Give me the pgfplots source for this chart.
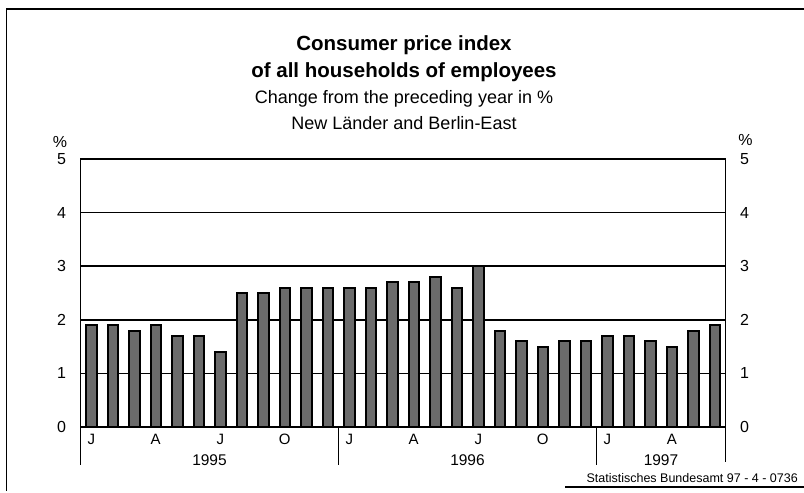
\documentclass[border=0pt]{standalone}
\usepackage{fontspec}
\setmainfont{Liberation Sans}
\usepackage{pgfplots}
\usepackage{pgfplotstable}
\pgfplotsset{compat=1.18}
\pgfplotstableread{
x y
0 1.9
1 1.9
2 1.8
3 1.9
4 1.7
5 1.7
6 1.4
7 2.5
8 2.5
9 2.6
10 2.6
11 2.6
12 2.6
13 2.6
14 2.7
15 2.7
16 2.8
17 2.6
18 3.0
19 1.8
20 1.6
21 1.5
22 1.6
23 1.6
24 1.7
25 1.7
26 1.6
27 1.5
28 1.8
29 1.9
}\cpidata
\begin{document}
\begin{tikzpicture}
\path[use as bounding box] (0pt,0pt) rectangle (804pt,493pt);
\draw[line width=1.6pt] (6.5pt,2pt) -- (6.5pt,484pt) -- (804pt,484pt);
\draw[line width=1.6pt] (565pt,6pt) -- (804pt,6pt);
\node[anchor=base east, inner sep=0pt, font=\fontsize{12.5}{14}\selectfont] at (798pt,10pt) {Statistisches Bundesamt 97 - 4 - 0736};
\node[anchor=base, inner sep=0pt, font=\fontsize{20.5}{24}\selectfont\bfseries] at (404pt,442.3pt) {Consumer price index};
\node[anchor=base, inner sep=0pt, font=\fontsize{20.5}{24}\selectfont\bfseries] at (404pt,415.7pt) {of all households of employees};
\node[anchor=base, inner sep=0pt, font=\fontsize{18}{21}\selectfont] at (404pt,389pt) {Change from the preceding year in \%};
\node[anchor=base, inner sep=0pt, font=\fontsize{18}{21}\selectfont] at (404pt,363pt) {New Länder and Berlin-East};
\begin{axis}[
  at={(80.5pt,66pt)}, anchor=south west,
  scale only axis, width=645pt, height=268pt,
  xmin=-0.5, xmax=29.5, ymin=0, ymax=5,
  ybar, bar width=10.5pt, bar shift=0pt,
  axis line style={line width=1.6pt},
  ymajorgrids, grid style={line width=1.5pt, black},
  ytick={0,1,2,3,4,5},
  xtick={0,3,6,9,12,15,18,21,24,27},
  xticklabels={J,A,J,O,J,A,J,O,J,A},
  major tick length=0pt,
  /pgf/number format/assume math mode=true,
  yticklabel style={font=\fontsize{16}{18}\selectfont, xshift=-11pt},
  xticklabel style={font=\fontsize{15}{17}\selectfont, text height=11pt, text depth=0pt, inner sep=0pt, yshift=-6pt},
  clip=false,
]
\addplot[fill=black!58, draw=black, line width=2pt] table[x=x,y=y] {\cpidata};
\draw[line width=2pt] (axis cs:-0.5,0) -- (axis cs:29.5,0);
\draw[line width=1.6pt] (axis cs:-0.5,0) -- ([yshift=-38pt]axis cs:-0.5,0);
\draw[line width=1.6pt] (axis cs:11.5,0) -- ([yshift=-38pt]axis cs:11.5,0);
\draw[line width=1.6pt] (axis cs:23.5,0) -- ([yshift=-38pt]axis cs:23.5,0);
\draw[line width=1.6pt] (axis cs:29.5,0) -- ([yshift=-35pt]axis cs:29.5,0);
\node[anchor=base, inner sep=0pt, font=\fontsize{15.5}{18}\selectfont] at ([yshift=-38pt]axis cs:5.5,0) {1995};
\node[anchor=base, inner sep=0pt, font=\fontsize{15.5}{18}\selectfont] at ([yshift=-38pt]axis cs:17.5,0) {1996};
\node[anchor=base, inner sep=0pt, font=\fontsize{15.5}{18}\selectfont] at ([yshift=-38pt]axis cs:26.5,0) {1997};
\node[anchor=base, inner sep=0pt, font=\fontsize{16}{18}\selectfont] at ([xshift=-20.5pt,yshift=11pt]axis cs:-0.5,5) {\%};
\node[anchor=base, inner sep=0pt, font=\fontsize{16}{18}\selectfont] at ([xshift=20pt,yshift=13pt]axis cs:29.5,5) {\%};
\end{axis}
\begin{axis}[
  at={(80.5pt,66pt)}, anchor=south west,
  scale only axis, width=645pt, height=268pt,
  xmin=-0.5, xmax=29.5, ymin=0, ymax=5,
  hide x axis, axis y line*=right,
  y axis line style={draw=none},
  ytick={0,1,2,3,4,5},
  major tick length=0pt,
  /pgf/number format/assume math mode=true,
  yticklabel style={font=\fontsize{16}{18}\selectfont, xshift=11pt},
]
\addplot[draw=none] coordinates {(0,0)};
\end{axis}
\end{tikzpicture}
\end{document}
